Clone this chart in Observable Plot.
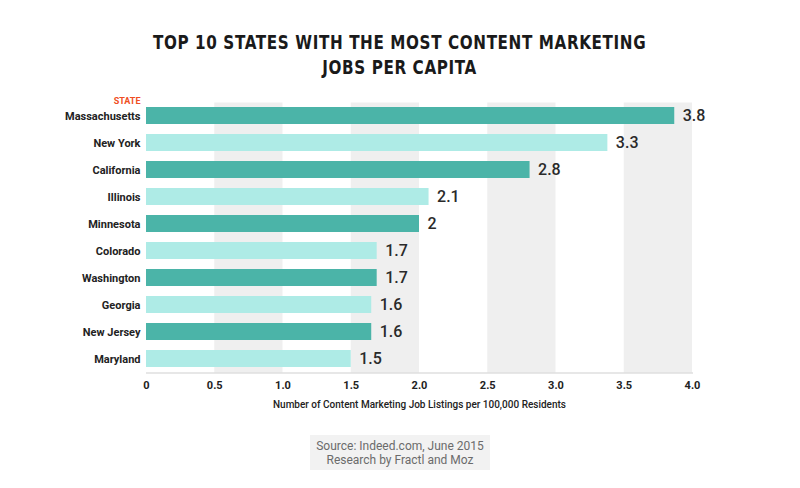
<!DOCTYPE html>
<html>
<head>
<meta charset="utf-8">
<script src="https://cdn.jsdelivr.net/npm/d3@7"></script>
<script src="https://cdn.jsdelivr.net/npm/@observablehq/plot@0.6"></script>
<style>
  body { margin: 0; background: #fff; width: 800px; height: 488px; overflow: hidden; font-family: Roboto, "Noto Sans", sans-serif; }
  #title { height: 85px; box-sizing: border-box; padding-top: 30px; text-align: center; font-family: "DejaVu Sans", sans-serif; font-weight: bold; font-size: 20px; line-height: 25px; color: #1a1a1a; letter-spacing: 0.8px; }
  #title span { display: inline-block; transform: scaleX(0.76); transform-origin: center; white-space: nowrap; }
  #chart svg { display: block; }
  #source { margin: 20px auto 0; width: 180px; height: 35px; background: #f2f2f2; color: #6b6b6b; font-size: 12px; line-height: 14px; text-align: center; box-sizing: border-box; padding-top: 4px; }
</style>
</head>
<body>
<div id="title"><span>TOP 10 STATES WITH THE MOST CONTENT MARKETING<br>JOBS PER CAPITA</span></div>
<div id="chart"></div>
<div id="source">Source: Indeed.com, June 2015<br>Research by Fractl and Moz</div>
<script>
const states = ["Massachusetts","New York","California","Illinois","Minnesota","Colorado","Washington","Georgia","New Jersey","Maryland"];
const values = [3.87, 3.38, 2.81, 2.07, 2.0, 1.69, 1.69, 1.65, 1.65, 1.5];
const valueLabels = ["3.8","3.3","2.8","2.1","2","1.7","1.7","1.6","1.6","1.5"];
const bandStarts = [0.5, 1.5, 2.5, 3.5];
const bandEnds = [1.0, 2.0, 3.0, 4.0];
const xTicks = [0, 0.5, 1.0, 1.5, 2.0, 2.5, 3.0, 3.5, 4.0];
const xTitle = "Number of Content Marketing Job Listings per 100,000 Residents";

const rows = states.map((s, i) => ({state: s, value: values[i], label: valueLabels[i], idx: i}));
const bands = bandStarts.map((b, i) => ({x1: b, x2: bandEnds[i]}));
const dark = "#4bb4a8", light = "#aeebe6";

const plot = Plot.plot({
  width: 800,
  height: 330,
  marginLeft: 146,
  marginRight: 108,
  marginTop: 17.5,
  marginBottom: 42.5,
  style: {fontFamily: "Roboto, sans-serif", background: "transparent"},
  x: {domain: [0, 4], ticks: xTicks},
  y: {domain: states, paddingInner: 0.37, paddingOuter: 0.185},
  color: {type: "identity"},
  marks: [
    Plot.rectX(bands, {x1: "x1", x2: "x2", fill: "#efefef"}),
    Plot.frame({anchor: "bottom", stroke: "#cfcfcf"}),
    Plot.barX(rows, {x: "value", y: "state", fill: d => d.idx % 2 ? light : dark}),
    Plot.text(rows, {x: "value", y: "state", text: "label", dx: 8, textAnchor: "start", fontSize: 16, fontWeight: 500, fill: "#2a2a2a"}),
    Plot.text(["STATE"], {frameAnchor: "top-left", dx: -6, dy: -5, textAnchor: "end", fill: "#f04e23", fontWeight: "bold", fontSize: 9}),
    Plot.axisY({tickSize: 0, tickPadding: 6, label: null, fontWeight: "bold", fontSize: 11, fill: "#222"}),
    Plot.axisX({ticks: xTicks, tickSize: 0, tickPadding: 8, tickFormat: d => d === 0 ? "0" : d3.format(".1f")(d), fontWeight: "bold", fontSize: 11, fill: "#222", label: null}),
    Plot.text([xTitle], {frameAnchor: "bottom", dy: 35, fontSize: 10, fontWeight: 500, fill: "#222"})
  ]
});
document.getElementById("chart").append(plot);
</script>
</body>
</html>
